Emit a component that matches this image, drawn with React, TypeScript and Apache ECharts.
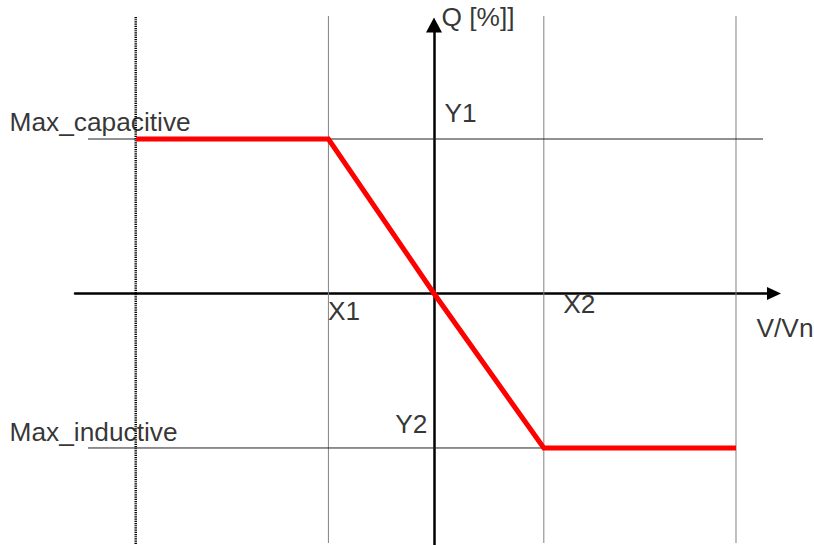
import React, { useEffect, useRef } from "react";
import * as echarts from "echarts";

// Q(V) droop characteristic: reactive power [%] against V/Vn deviation.
// Break points: left limit, X1, nominal, X2, right limit.
const vPoints = [-28.2, -10, 0, 10.4, 28.6];
const qPoints = [100, 100, 0, -100, -100];

// Reference levels
const maxCapacitive = 100;
const maxInductive = -100;

// Vertical guide positions (the left one is drawn dotted)
const guideDotted = -28.25;
const guideSolid = [-10, 10.4, 28.6];

// Extents of the guide lines
const guideTop = 179.6;
const guideBottom = -161.5;
const dottedTop = 179;
const dottedBottom = -162.8;
const levelStart = -32.77;
const capEnd = 31.16;
const indEnd = 28.6;

// Axis ranges
const xMin = -34;
const xMax = 32.2;
const yMin = -162.8;
const yMax = 173.8;

const FONT = '"Liberation Sans", Arial, Helvetica, sans-serif';
const FS = 26.3;

type Lbl = {
  text: string;
  at: [number, number];
  dx: number;
  dy: number;
  align?: "left" | "right" | "center";
};

const labels: Lbl[] = [
  { text: "Q [%]]", at: [0, yMax], dx: 8, dy: -8 },
  { text: "Y1", at: [0, maxCapacitive], dx: 11, dy: -26 },
  { text: "Y2", at: [0, maxInductive], dx: -6, dy: -23, align: "right" },
  { text: "X1", at: [vPoints[1], 0], dx: 0, dy: 18.5 },
  { text: "X2", at: [vPoints[3], 0], dx: 20, dy: 11.5 },
  { text: "V/Vn", at: [xMax, 0], dx: -17, dy: 35.5 },
  { text: "Max_capacitive", at: [levelStart, maxCapacitive], dx: -78, dy: -17 },
  { text: "Max_inductive", at: [levelStart, maxInductive], dx: -78, dy: -15 },
];

type Seg = { from: [number, number]; to: [number, number]; style: any };

export default function App() {
  const ref = useRef<HTMLDivElement>(null);

  useEffect(() => {
    if (!ref.current) return;
    document.body.style.margin = "0";
    const chart = echarts.init(ref.current, null, { renderer: "svg" });

    const grayStyle = { color: "#808080", width: 1, type: "solid" };
    const levelStyle = { color: "#222222", width: 1, type: "solid" };
    const dottedStyle = { color: "#000000", width: 2.5, type: [1.2, 1] };

    const guides: Seg[] = [
      { from: [guideDotted, dottedTop], to: [guideDotted, dottedBottom], style: dottedStyle },
      ...guideSolid.map(
        (x): Seg => ({ from: [x, guideTop], to: [x, guideBottom], style: grayStyle })
      ),
      { from: [levelStart, maxCapacitive], to: [capEnd, maxCapacitive], style: levelStyle },
      { from: [levelStart, maxInductive], to: [indEnd, maxInductive], style: levelStyle },
    ];

    chart.setOption({
      animation: false,
      backgroundColor: "#ffffff",
      grid: { left: 75, right: 40, top: 25, bottom: 0, containLabel: false },
      tooltip: { show: false },
      xAxis: {
        type: "value",
        min: xMin,
        max: xMax,
        axisLine: {
          show: true,
          onZero: true,
          symbol: ["none", "triangle"],
          symbolSize: [13, 14],
          lineStyle: { color: "#000", width: 2.5, type: [1, 1] },
        },
        axisTick: { show: false },
        axisLabel: { show: false },
        splitLine: { show: false },
      },
      yAxis: {
        type: "value",
        min: yMin,
        max: yMax,
        axisLine: {
          show: true,
          onZero: true,
          symbol: ["none", "triangle"],
          symbolSize: [16, 15],
          lineStyle: { color: "#000", width: 2.5 },
        },
        axisTick: { show: false },
        axisLabel: { show: false },
        splitLine: { show: false },
      },
      series: [
        ...guides.map((g, i) => ({
          name: "guide" + i,
          type: "line",
          z: 1,
          clip: false,
          silent: true,
          symbol: "none",
          lineStyle: g.style,
          data: [g.from, g.to],
        })),
        {
          name: "Q",
          type: "line",
          z: 5,
          clip: false,
          silent: true,
          symbol: "none",
          lineStyle: { color: "#ff0000", width: 5, join: "miter" },
          data: vPoints.map((v, i) => [v, qPoints[i]]),
        },
        {
          name: "labels",
          type: "scatter",
          z: 6,
          clip: false,
          silent: true,
          symbolSize: 1,
          itemStyle: { color: "rgba(0,0,0,0)" },
          data: labels.map((l) => ({
            value: l.at,
            label: {
              show: true,
              formatter: l.text,
              position: [0, 0],
              offset: [l.dx, l.dy],
              align: l.align || "left",
              verticalAlign: "middle",
              color: "#000",
              fontSize: FS,
              fontFamily: FONT,
            },
          })),
        },
      ],
    });

    return () => chart.dispose();
  }, []);

  return <div ref={ref} style={{ width: 814, height: 545, background: "#fff" }} />;
}
